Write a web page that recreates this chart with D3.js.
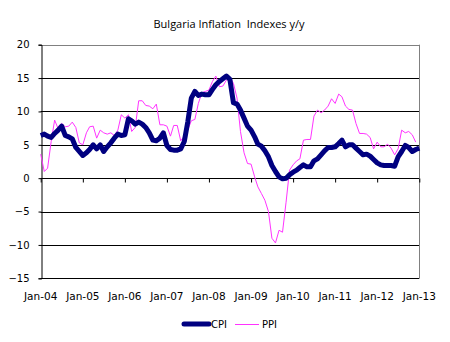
<!DOCTYPE html>
<html><head><meta charset="utf-8">
<script src="https://cdn.jsdelivr.net/npm/d3@7"></script>
<style>body{margin:0;background:#fff}svg{display:block}</style></head>
<body><svg id="c" width="450" height="342"></svg>
<script>
const title = "Bulgaria Inflation  Indexes y/y";
const startYear = 2004;
const cpi = [6.4,6.6,6.3,6.1,6.7,7.2,7.8,6.4,6.2,5.9,4.6,4.0,
  3.4,3.8,4.3,5.0,4.4,5.0,4.0,4.7,5.3,6.0,6.6,6.4,
  6.5,8.9,8.6,8.1,8.4,8.1,7.6,6.8,5.7,5.6,6.0,6.8,
  4.9,4.3,4.2,4.2,4.4,5.5,8.4,12.0,13.0,12.4,12.6,12.5,
  12.5,13.3,14.0,14.5,14.9,15.3,14.8,11.3,11.1,10.2,9.0,7.8,
  7.2,6.2,5.1,4.8,4.1,3.2,1.9,1.0,0.2,-0.1,0.0,0.5,
  0.9,1.2,1.6,2.0,1.7,1.7,2.6,2.9,3.5,4.1,4.6,4.6,
  4.7,5.2,5.7,4.7,5.0,5.0,4.5,4.0,3.5,3.6,3.3,2.8,
  2.3,2.0,1.9,1.9,1.9,1.8,3.2,4.0,4.9,4.6,4.0,4.3,
  4.5];
const ppi = [3.6,1.0,1.5,5.5,8.7,7.4,8.2,7.7,7.8,8.4,7.6,5.3,
  5.0,6.8,7.7,7.8,6.0,7.2,6.8,6.6,6.8,6.4,7.2,9.5,
  9.0,9.5,7.0,7.6,11.6,11.6,10.9,10.8,10.4,11.1,8.0,8.0,
  7.8,6.3,7.9,7.9,5.6,6.3,7.2,8.6,8.8,11.2,12.8,13.0,
  13.2,14.5,15.3,13.7,13.8,14.7,15.2,14.2,12.0,7.0,3.8,2.2,
  2.1,0.2,-1.3,-2.3,-3.3,-5.0,-9.0,-9.7,-7.8,-8.1,-3.6,1.2,
  2.0,2.6,2.9,5.7,5.8,5.8,9.3,10.2,9.8,10.2,10.8,11.9,
  11.2,12.6,12.2,10.8,10.3,10.2,8.2,6.7,6.7,6.6,6.1,4.4,
  5.4,4.7,4.7,5.1,4.5,3.5,4.4,7.2,6.8,7.0,6.5,5.4];
const yTicks = [-15,-10,-5,0,5,10,15,20];
const xTickLabels = ["Jan-04","Jan-05","Jan-06","Jan-07","Jan-08","Jan-09","Jan-10","Jan-11","Jan-12","Jan-13"];
const seriesNames = ["CPI","PPI"];

const svg = d3.select("#c");
const L = 40.7, R = 419.3, T = 44.7, B = 278.3;
const month = i => d3.timeMonth.offset(new Date(startYear,0,1), i);
const x = d3.scaleTime().domain([new Date(startYear,0,1), new Date(startYear+9,0,1)]).range([L,R]);
const y = d3.scaleLinear().domain([-15,20]).range([B,T]);
const font = "'DejaVu Sans', Verdana, sans-serif";

// title
svg.append("text").attr("x",229).attr("y",28).attr("text-anchor","middle")
  .style("white-space","pre")
  .attr("font-family","'Open Sans', 'Liberation Sans', Arial, sans-serif").attr("font-size",11).attr("fill","#000").text(title);

// gridlines
svg.append("g").selectAll("line").data(yTicks.filter(v=>v<20)).join("line")
  .attr("x1",L).attr("x2",R).attr("y1",d=>Math.round(y(d))+0.5).attr("y2",d=>Math.round(y(d))+0.5)
  .attr("stroke","#000").attr("stroke-width",1);
// top & right border
svg.append("line").attr("x1",L).attr("x2",R).attr("y1",Math.round(y(20))+0.5).attr("y2",Math.round(y(20))+0.5).attr("stroke","#808080");
svg.append("line").attr("x1",Math.round(R)+0.5).attr("x2",Math.round(R)+0.5).attr("y1",y(20)).attr("y2",B).attr("stroke","#808080");

// y axis
const yAxis = d3.axisLeft(y).tickValues(yTicks).tickSize(3).tickPadding(9).tickFormat(d3.format("d"));
const gy = svg.append("g").attr("transform",`translate(${Math.round(L)+0.5},0)`).call(yAxis);
gy.select(".domain").attr("stroke","#000");
gy.selectAll("text").attr("font-family",font).attr("font-size",10).attr("fill","#000");

// x axis at zero with ticks below
const xAxis = d3.axisBottom(x).tickValues(xTickLabels.map((_,i)=>new Date(startYear+i,0,1))).tickSize(4).tickFormat("");
const gx = svg.append("g").attr("transform",`translate(0,${Math.round(y(0))+0.5})`).call(xAxis);
gx.select(".domain").remove();
gx.selectAll("line").attr("stroke","#000");
// x labels at bottom
svg.append("g").selectAll("text").data(xTickLabels).join("text")
  .attr("x",(d,i)=>x(new Date(startYear+i,0,1))).attr("y",300).attr("text-anchor","middle")
  .attr("font-family",font).attr("font-size",10.5).attr("fill","#000").text(d=>d);

// lines
const line = d3.line().x((d,i)=>x(month(i))).y(d=>y(d));
svg.append("path").datum(ppi).attr("d",line).attr("fill","none").attr("stroke","#ff33ff").attr("stroke-width",1);
svg.append("path").datum(cpi).attr("d",line).attr("fill","none").attr("stroke","#000080").attr("stroke-width",5).attr("stroke-linejoin","round");

// legend
const lg = svg.append("g");
lg.append("line").attr("x1",184).attr("x2",209).attr("y1",324).attr("y2",324).attr("stroke","#000080").attr("stroke-width",5).attr("stroke-linecap","round");
lg.append("text").attr("x",211).attr("y",328).attr("font-family",font).attr("font-size",10).text(seriesNames[0]);
lg.append("line").attr("x1",235).attr("x2",259).attr("y1",324.5).attr("y2",324.5).attr("stroke","#ff33ff").attr("stroke-width",1);
lg.append("text").attr("x",262).attr("y",328).attr("font-family",font).attr("font-size",10).text(seriesNames[1]);
</script></body></html>
